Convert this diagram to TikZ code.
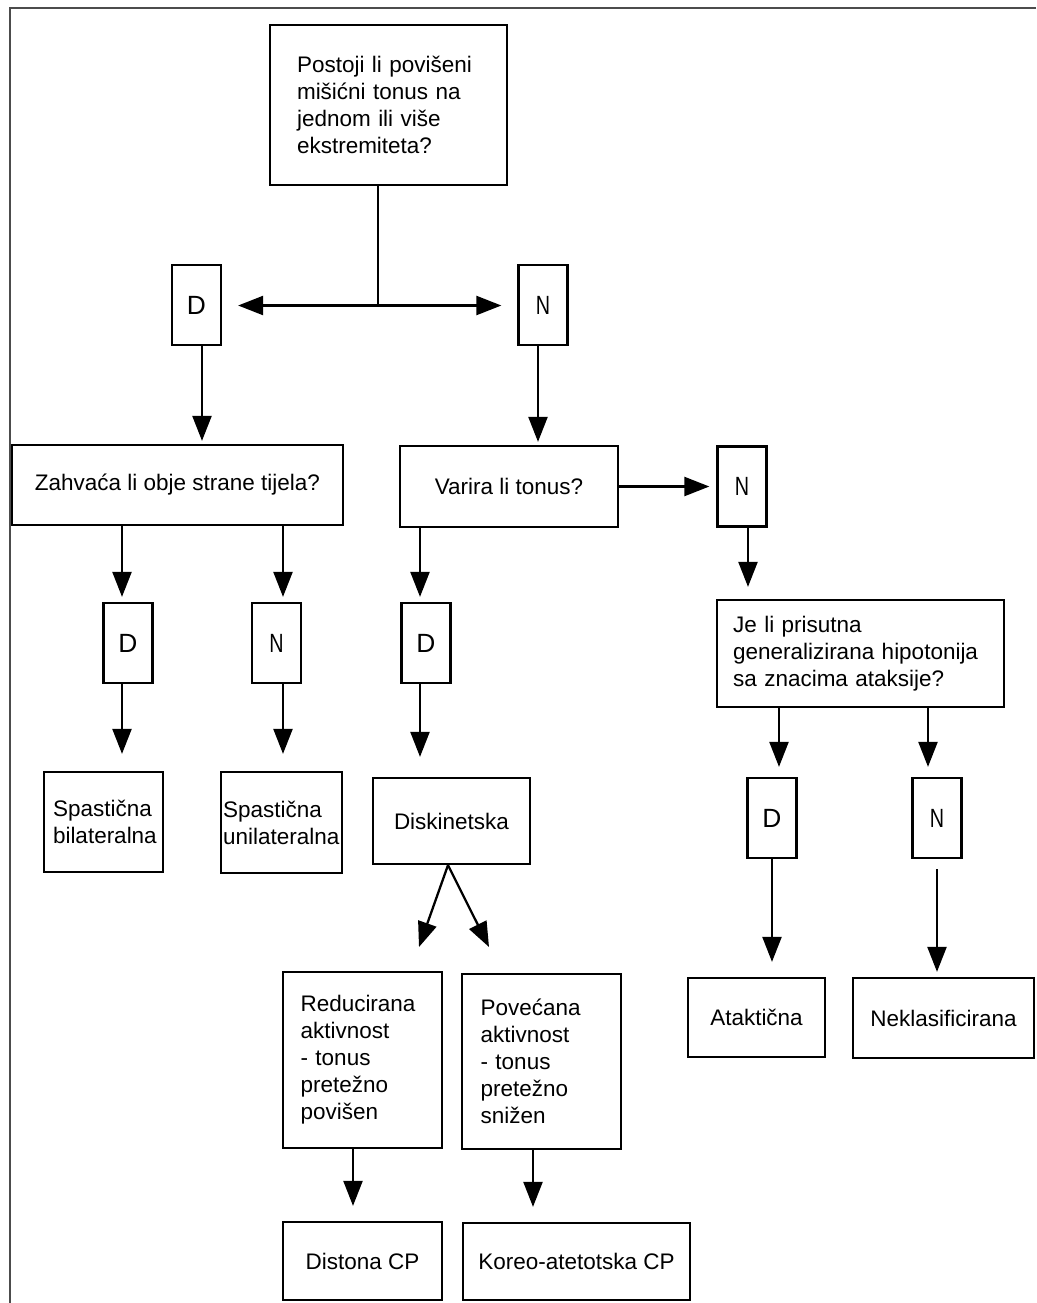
\documentclass[tikz,border=0pt]{standalone}
\usepackage{fontspec}
\setmainfont{Liberation Sans}
\usetikzlibrary{arrows.meta}

\begin{document}
\begin{tikzpicture}[x=0.02cm, y=-0.02cm,
  box/.style={draw, line width=1.3pt, inner sep=1pt, align=left,
    font=\fontsize{12.8}{15.4}\selectfont},
  yn/.style={draw, line width=1.3pt, inner sep=1pt,
    minimum width=0.98cm, minimum height=1.6cm,
    font=\fontsize{15}{16}\selectfont},
  arr/.style={line width=1.3pt, -{Triangle[length=0.5cm, width=0.38cm]}},
  link/.style={line width=1.3pt}]

  \useasboundingbox (0,0) rectangle (1036,1303);

  % --- frame of the scan ---
  \draw[line width=1.4pt, black!70] (1036,8) -- (10,8) -- (10,1303);

  % --- first question ---
  \node[box, minimum width=4.74cm, minimum height=3.2cm, text width=3.66cm] (q1) at (388.5,105)
    {Postoji li povišeni\\mišićni tonus na\\jednom ili više\\ekstremiteta?};

  \node[yn] (d1) at (196.5,305) {D};
  \node[yn] (n1) at (543,305) {\scalebox{0.75}[1]{N}};

  % --- second level ---
  \node[box, minimum width=6.62cm, minimum height=1.6cm] (zah) at (177.5,485)
    {Zahvaća li obje strane tijela?};
  \node[box, minimum width=4.36cm, minimum height=1.62cm] (var) at (509,486.5)
    {Varira li tonus?};
  \node[yn] (n3) at (742,486.5) {\scalebox{0.75}[1]{N}};

  \node[box, minimum width=5.74cm, minimum height=2.14cm, text width=5.1cm] (jeli) at (860.5,653.5)
    {Je li prisutna\\generalizirana hipotonija\\sa znacima ataksije?};

  % --- yes / no answers ---
  \node[yn] (d2) at (128,643) {D};
  \node[yn] (n2) at (276.5,643) {\scalebox{0.75}[1]{N}};
  \node[yn] (d3) at (426,643) {D};
  \node[yn] (d4) at (772,818) {D};
  \node[yn] (n4) at (937,818) {\scalebox{0.75}[1]{N}};

  % --- types ---
  \node[box, minimum width=2.38cm, minimum height=2cm, text width=2.02cm] (spb) at (103.5,822)
    {Spastična\\bilateralna};
  \node[box, minimum width=2.38cm, minimum height=2.02cm, text width=2.34cm] (spu) at (281.5,822.5)
    {Spastična\\unilateralna};
  \node[box, minimum width=3.14cm, minimum height=1.72cm] (disk) at (451.5,821)
    {Diskinetska};
  \node[box, minimum width=2.74cm, minimum height=1.58cm] (atak) at (756.5,1017.5)
    {Ataktična};
  \node[box, minimum width=3.62cm, minimum height=1.6cm] (nekl) at (943.5,1018)
    {Neklasificirana};

  \node[box, minimum width=3.18cm, minimum height=3.52cm, text width=2.48cm] (red) at (362.5,1060)
    {Reducirana\\aktivnost\\- tonus\\pretežno\\povišen};
  \node[box, minimum width=3.18cm, minimum height=3.5cm, text width=2.44cm] (pov) at (541.5,1061.5)
    {Povećana\\aktivnost\\- tonus\\pretežno\\snižen};

  \node[box, minimum width=3.18cm, minimum height=1.56cm] (dist) at (362.5,1261)
    {Distona CP};
  \node[box, minimum width=4.54cm, minimum height=1.54cm] (kor) at (576.5,1261.5)
    {Koreo-atetotska CP};

  % --- connectors ---
  \coordinate (split) at (378,305.5);
  \draw[link] (q1.south -| split) -- (split);
  \draw[arr, shorten >=0.32cm] (split) -- (d1.east |- split);
  \draw[arr, shorten >=0.32cm] (split) -- (n1.west |- split);

  \draw[arr, shorten >=0.06cm] ([xshift=0.11cm]d1.south) -- ([xshift=0.11cm]d1.south |- zah.north);
  \draw[arr, shorten >=0.06cm] ([xshift=-0.1cm]n1.south) -- ([xshift=-0.1cm]n1.south |- var.north);
  \draw[arr, shorten >=0.14cm] (var.east) -- (n3.west);
  \draw[arr, shorten >=0.24cm] ([xshift=0.12cm]n3.south) -- ([xshift=0.12cm]n3.south |- jeli.north);

  \draw[arr, shorten >=0.1cm] ([xshift=-0.12cm]d2.north |- zah.south) -- ([xshift=-0.12cm]d2.north);
  \draw[arr, shorten >=0.1cm] ([xshift=0.13cm]n2.north |- zah.south) -- ([xshift=0.13cm]n2.north);
  \draw[arr, shorten >=0.1cm] ([xshift=-0.12cm]d3.north |- var.south) -- ([xshift=-0.12cm]d3.north);

  \draw[arr, shorten >=0.34cm] ([xshift=-0.12cm]d2.south) -- ([xshift=-0.12cm]d2.south |- spb.north);
  \draw[arr, shorten >=0.34cm] ([xshift=0.13cm]n2.south) -- ([xshift=0.13cm]n2.south |- spu.north);
  \draw[arr, shorten >=0.4cm] ([xshift=-0.12cm]d3.south) -- ([xshift=-0.12cm]d3.south |- disk.north);

  \coordinate (fork) at ([xshift=-0.07cm]disk.south);
  \coordinate (redtip) at (419,947);
  \coordinate (povtip) at (489,947);
  \draw[arr] (fork) -- (redtip);
  \draw[arr] (fork) -- (povtip);

  \draw[arr, shorten >=0.3cm] ([xshift=-0.19cm]red.south) -- ([xshift=-0.19cm]red.south |- dist.north);
  \draw[arr, shorten >=0.3cm] ([xshift=-0.17cm]pov.south) -- ([xshift=-0.17cm]pov.south |- kor.north);

  \draw[arr, shorten >=0.2cm] ([xshift=0.14cm]d4.north |- jeli.south) -- ([xshift=0.14cm]d4.north);
  \draw[arr, shorten >=0.2cm] ([xshift=-0.18cm]n4.north |- jeli.south) -- ([xshift=-0.18cm]n4.north);
  \draw[arr, shorten >=0.3cm] (d4.south) -- (d4.south |- atak.north);
  \draw[arr, shorten >=0.1cm] ([yshift=-0.2cm]n4.south) -- (n4.south |- nekl.north);

\end{tikzpicture}
\end{document}
